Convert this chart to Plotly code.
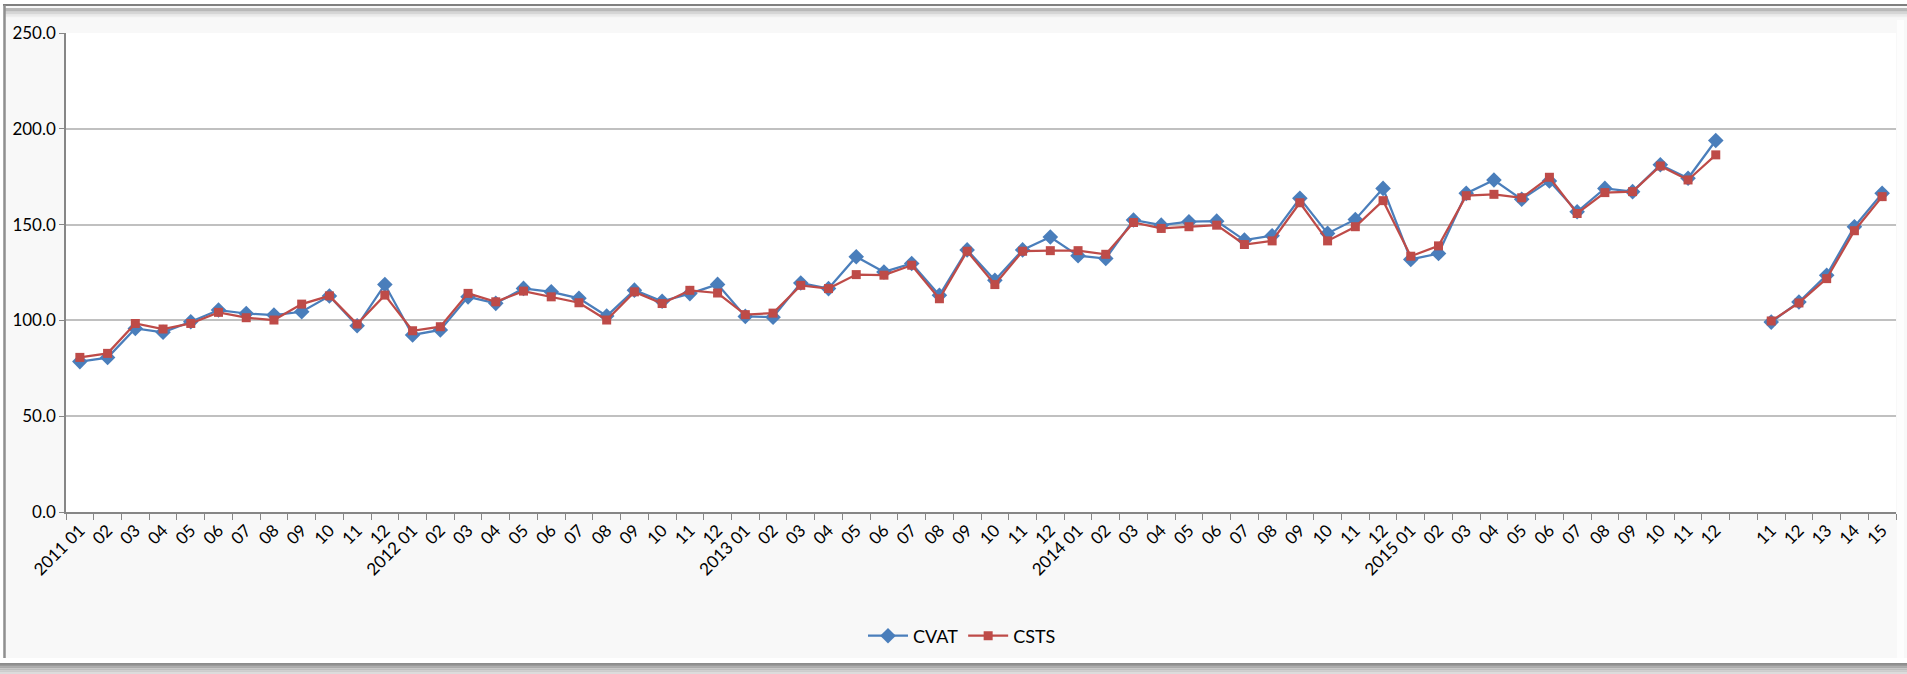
import plotly.graph_objects as go

# ---- data ----
years = ["2011", "2012", "2013", "2014", "2015"]
months = ["01", "02", "03", "04", "05", "06", "07", "08", "09", "10", "11", "12"]
tail_labels = ["11", "12", "13", "14", "15"]

tick_labels = []
for y in years:
    for m in months:
        tick_labels.append(f"{y} {m}" if m == "01" else m)
tick_labels.append("")          # empty category between the two blocks
tick_labels += tail_labels

cvat = [78.5, 80.6, 95.8, 93.8, 99.3, 105.4, 103.6, 102.8, 104.5, 112.7, 97.2, 118.7,
        92.4, 95.0, 112.3, 108.9, 116.7, 114.9, 111.5, 102.3, 115.8, 110.0, 114.0, 118.8,
        102.1, 101.7, 119.5, 116.6, 133.2, 125.3, 129.7, 113.1, 136.8, 120.9, 136.8, 143.5,
        133.8, 132.3, 152.4, 149.7, 151.5, 151.8, 141.9, 144.2, 163.7, 145.4, 152.7, 168.9,
        131.8, 134.9, 166.3, 173.3, 163.2, 172.8, 156.7, 168.9, 167.2, 181.2, 174.2, 193.9,
        None, 99.1, 109.6, 123.6, 148.9, 166.3]

csts = [80.7, 82.8, 98.4, 95.5, 98.4, 104.2, 101.4, 100.2, 108.5, 112.8, 98.1, 113.2,
        94.6, 96.7, 114.1, 109.7, 115.3, 112.3, 109.2, 100.2, 114.9, 108.8, 115.7, 114.3,
        103.0, 103.8, 118.3, 116.6, 123.9, 123.6, 128.8, 111.3, 136.1, 118.7, 136.1, 136.4,
        136.4, 134.5, 151.1, 148.0, 148.9, 149.7, 139.6, 141.5, 161.4, 141.5, 148.9, 162.5,
        133.5, 138.9, 165.1, 165.8, 164.0, 174.7, 155.8, 166.7, 167.2, 180.6, 173.3, 186.4,
        None, 99.7, 109.1, 121.8, 146.8, 164.6]

x_idx = list(range(len(tick_labels)))

# ---- figure ----
W, H = 1907, 674
L, R, T, B = 66, 11, 33, 162

BLUE = "#4A7EBB"
RED = "#BE4B48"
FONT = "Lato, 'Open Sans', sans-serif"

fig = go.Figure()
fig.add_trace(go.Scatter(
    x=x_idx, y=cvat, name="CVAT", mode="lines+markers",
    line=dict(color=BLUE, width=2.25),
    marker=dict(symbol="diamond", size=12, color=BLUE),
    connectgaps=False,
))
fig.add_trace(go.Scatter(
    x=x_idx, y=csts, name="CSTS", mode="lines+markers",
    line=dict(color=RED, width=2.25),
    marker=dict(symbol="square", size=9, color=RED),
    connectgaps=False,
))

n = len(tick_labels)
fig.update_xaxes(
    range=[-0.5, n - 0.5],
    tickmode="array", tickvals=x_idx, ticktext=tick_labels,
    tickangle=-45, ticks="", showgrid=False,
    showline=True, linecolor="#868686", linewidth=1.5,
    zeroline=False,
    tickfont=dict(family=FONT, size=17, color="#000000"),
    minor=dict(tickmode="array", tickvals=[i - 0.5 for i in range(n + 1)],
               ticks="outside", ticklen=6, tickcolor="#868686", tickwidth=1.2, showgrid=False),
)
fig.update_yaxes(
    range=[0, 250], dtick=50, tick0=0, tickformat=".1f",
    showgrid=True, gridcolor="#C0C0C0", gridwidth=1.5,
    showline=True, linecolor="#868686", linewidth=1.5,
    ticks="outside", ticklen=5, tickcolor="#868686",
    zeroline=False,
    tickfont=dict(family=FONT, size=17, color="#000000"),
)

# frame decorations (pixel -> paper conversion)
pw, ph = W - L - R, H - T - B
def px(xp):
    return (xp - L) / pw
def py(yp):
    return (H - B - yp) / ph

shapes = []
# white outer edge
shapes.append(dict(type="rect", xref="paper", yref="paper", x0=px(0), x1=px(W), y0=py(0), y1=py(5),
                   line=dict(width=0), fillcolor="#FFFFFF"))
shapes.append(dict(type="rect", xref="paper", yref="paper", x0=px(0), x1=px(3), y0=py(0), y1=py(H),
                   line=dict(width=0), fillcolor="#FFFFFF"))
# top dark border + shadow band
shapes.append(dict(type="line", xref="paper", yref="paper", x0=px(3), x1=px(W), y0=py(5), y1=py(5),
                   line=dict(color="#7F7F7F", width=2)))
for i, c in enumerate(["#A6A6A6", "#B8B8B8", "#C8C8C8", "#D6D6D6", "#E4E4E4", "#EEEEEE"]):
    shapes.append(dict(type="line", xref="paper", yref="paper", x0=px(4), x1=px(W), y0=py(9 + 1.5 * i), y1=py(9 + 1.5 * i),
                       line=dict(color=c, width=1.6)))
# left border
shapes.append(dict(type="line", xref="paper", yref="paper", x0=px(4.5), x1=px(4.5), y0=py(5), y1=py(663),
                   line=dict(color="#8F8F8F", width=2.5)))
# bottom border band
shapes.append(dict(type="rect", xref="paper", yref="paper", x0=px(0), x1=px(W), y0=py(658), y1=py(663),
                   line=dict(width=0), fillcolor="#FFFFFF"))
for i, c in enumerate(["#8C8C8C", "#9A9A9A", "#ABABAB", "#BDBDBD", "#CDCDCD", "#DCDCDC"]):
    shapes.append(dict(type="line", xref="paper", yref="paper", x0=px(0), x1=px(W), y0=py(664 + 1.8 * i), y1=py(664 + 1.8 * i),
                       line=dict(color=c, width=2)))
# right light strip
shapes.append(dict(type="rect", xref="paper", yref="paper", x0=px(1897), x1=px(1904), y0=py(20), y1=py(658),
                   line=dict(width=0), fillcolor="#FDFDFD", layer="below"))

fig.update_layout(
    width=W, height=H,
    margin=dict(l=L, r=R, t=T, b=B, autoexpand=False),
    paper_bgcolor="#F8F8F8", plot_bgcolor="#FFFFFF",
    showlegend=True,
    legend=dict(orientation="h", x=px(962), xanchor="center", y=py(636), yanchor="middle",
                font=dict(family=FONT, size=18, color="#000000"),
                bgcolor="rgba(0,0,0,0)", itemwidth=40, tracegroupgap=0),
    shapes=shapes,
    font=dict(family=FONT),
)

fig.write_html("out.html", config={"displayModeBar": False},
               post_script="document.body.style.margin='0';document.body.style.padding='0';")
